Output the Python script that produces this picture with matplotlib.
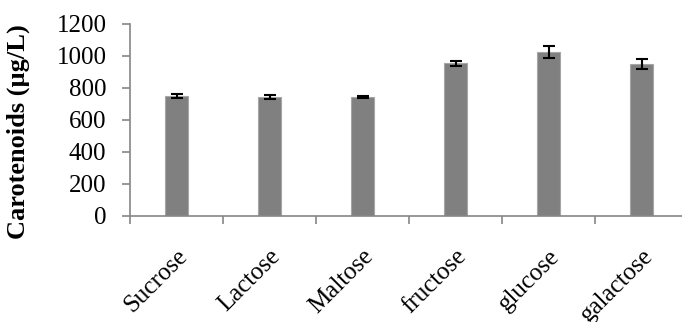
import matplotlib
matplotlib.use('Agg')
import matplotlib.pyplot as plt
import numpy as np

sugars = ['Sucrose', 'Lactose', 'Maltose', 'fructose', 'glucose', 'galactose']
carotenoids = [750, 742, 742, 954, 1025, 948]
errors = [10, 12, 6, 17, 35, 31]

plt.rcParams['font.family'] = ['Liberation Serif', 'DejaVu Serif']

fig = plt.figure(figsize=(6.82, 3.22), dpi=100)
ax = fig.add_axes([130 / 682, 106 / 322, 552 / 682, 192 / 322])

x = np.arange(len(sugars))
ax.bar(x, carotenoids, width=0.25, color='#808080', edgecolor='#a6a6a6', linewidth=0.8,
       yerr=errors, error_kw=dict(ecolor='black', elinewidth=1.5, capsize=4, capthick=1.5))

ax.set_xlim(-0.5, 5.435)
ax.set_ylim(0, 1200)
ax.set_yticks(np.arange(0, 1201, 200))
ax.set_xticks(np.arange(-0.5, 5, 1))
ax.set_xticklabels([])
# category names sit under the bars, tick marks sit between them
ax.set_xticks(x, minor=True)
ax.set_xticklabels(sugars, minor=True, rotation=45, ha='right', rotation_mode='anchor', fontsize=18)
ax.tick_params(axis='x', which='minor', length=0, pad=21)

for s in ['top', 'right']:
    ax.spines[s].set_visible(False)
for s in ['left', 'bottom']:
    ax.spines[s].set_color('#868686')
    ax.spines[s].set_linewidth(1.2)
ax.tick_params(axis='both', which='major', color='#868686', width=1.2, length=6, labelsize=18)
ax.tick_params(axis='y', pad=11)

ax.set_ylabel('Carotenoids (\u00b5g/L)', fontsize=19, fontweight='bold')
ax.yaxis.set_label_coords(-0.182, 0.44)

fig.savefig('out.png', dpi=100)
